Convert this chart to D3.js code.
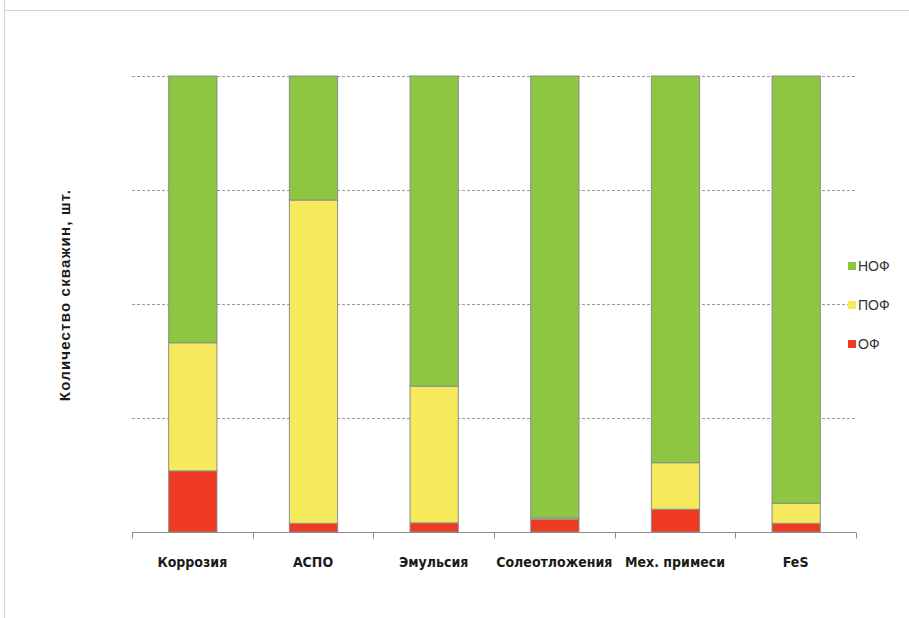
<!DOCTYPE html>
<html>
<head>
<meta charset="utf-8">
<script src="https://cdn.jsdelivr.net/npm/d3@7"></script>
<style>
  html, body { margin: 0; padding: 0; background: #fff; }
  svg { display: block; }
</style>
</head>
<body>
<svg id="chart" width="909" height="618"></svg>
<script>
// Categories of well complications
const categories = ["Коррозия", "АСПО", "Эмульсия", "Солеотложения", "Мех. примеси", "FeS"];
// Share of wells per fund type, %
const seriesOF  = [13.4, 1.9, 2.0, 2.8, 5.0, 1.9];
const seriesPOF = [28.1, 70.9, 30.0, 0.3, 10.2, 4.4];
const seriesNOF = [58.5, 27.2, 68.0, 96.9, 84.8, 93.7];
const seriesNames = ["ОФ", "ПОФ", "НОФ"];
const seriesColors = ["#ee3a22", "#f6ea5c", "#8dc641"];
const yTicks = [0, 25, 50, 75, 100];
const yTitle = "Количество скважин, шт.";

const svg = d3.select("#chart");

// outer frame lines
svg.append("line").attr("x1", 4.5).attr("x2", 4.5).attr("y1", 0).attr("y2", 618)
  .attr("stroke", "#d4d4d4").attr("stroke-width", 1);
svg.append("line").attr("x1", 4).attr("x2", 909).attr("y1", 10.5).attr("y2", 10.5)
  .attr("stroke", "#d4d4d4").attr("stroke-width", 1);

const plot = { left: 132, right: 856, top: 76, bottom: 532 };

const x = d3.scaleBand().domain(categories).range([plot.left, plot.right])
  .paddingInner(0.6).paddingOuter(0.3);
const xTickScale = d3.scaleBand().domain(categories).range([plot.left, plot.right]);
const y = d3.scaleLinear().domain([0, 100]).range([plot.bottom, plot.top]);

// dashed gridlines
svg.append("g").selectAll("line").data(yTicks.filter(d => d > 0)).join("line")
  .attr("x1", plot.left).attr("x2", plot.right)
  .attr("y1", d => Math.round(y(d)) + 0.5).attr("y2", d => Math.round(y(d)) + 0.5)
  .attr("stroke", "#9a9a9a").attr("stroke-width", 1)
  .attr("stroke-dasharray", "3,2");

// stacked bars
const table = categories.map((c, i) => ({ cat: c, "ОФ": seriesOF[i], "ПОФ": seriesPOF[i], "НОФ": seriesNOF[i] }));
const stacked = d3.stack().keys(seriesNames)(table);

svg.append("g").selectAll("g").data(stacked).join("g")
  .attr("fill", (d, i) => seriesColors[i])
  .selectAll("rect").data(d => d).join("rect")
  .attr("x", d => x(d.data.cat) + 0.5)
  .attr("width", x.bandwidth())
  .attr("y", d => y(d[1]))
  .attr("height", d => y(d[0]) - y(d[1]))
  .attr("stroke", "#8c8c8c").attr("stroke-width", 1);

// category axis
const xAxis = svg.append("g").attr("transform", `translate(0,${plot.bottom + 0.5})`);
xAxis.append("line").attr("x1", plot.left).attr("x2", plot.right)
  .attr("stroke", "#8c8c8c").attr("stroke-width", 1);
const tickPos = categories.map(c => xTickScale(c)).concat([plot.right]);
xAxis.selectAll("line.tick").data(tickPos).join("line").attr("class", "tick")
  .attr("x1", d => Math.round(d) + 0.5).attr("x2", d => Math.round(d) + 0.5)
  .attr("y1", 0).attr("y2", 6)
  .attr("stroke", "#8c8c8c").attr("stroke-width", 1);
xAxis.selectAll("text").data(categories).join("text")
  .attr("x", d => xTickScale(d) + xTickScale.bandwidth() / 2)
  .attr("y", 34)
  .attr("text-anchor", "middle")
  .attr("font-family", "'Liberation Sans Narrow', 'Arial Narrow', 'DejaVu Sans Condensed', sans-serif")
  .attr("font-weight", "bold")
  .attr("font-size", 14)
  .attr("fill", "#1a1a1a")
  .text(d => d);

// y title
svg.append("text")
  .attr("transform", `translate(70,295) rotate(-90)`)
  .attr("text-anchor", "middle")
  .attr("font-family", "'Liberation Sans', Arial, sans-serif")
  .attr("font-weight", "bold")
  .attr("font-size", 15)
  .attr("letter-spacing", 1.2)
  .attr("fill", "#1a1a1a")
  .text(yTitle);

// legend (top to bottom: НОФ, ПОФ, ОФ)
const legendItems = seriesNames.map((n, i) => ({ name: n, color: seriesColors[i] })).reverse();
const legend = svg.append("g").selectAll("g").data(legendItems).join("g")
  .attr("transform", (d, i) => `translate(848,${266 + i * 39})`);
legend.append("rect").attr("x", 0).attr("y", -4).attr("width", 8).attr("height", 8)
  .attr("fill", d => d.color);
legend.append("text").attr("x", 10).attr("y", 5)
  .attr("font-family", "'Liberation Sans', Arial, sans-serif")
  .attr("font-size", 14).attr("fill", "#333")
  .text(d => d.name);
</script>
</body>
</html>
